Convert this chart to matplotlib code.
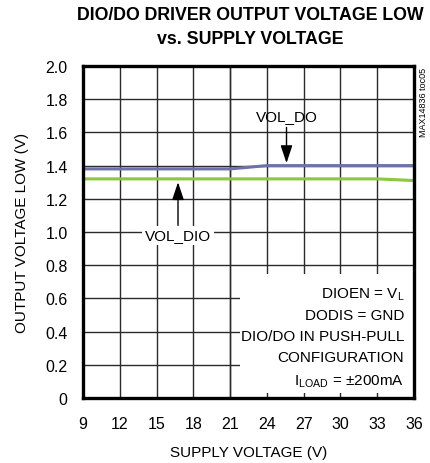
import matplotlib
matplotlib.use("Agg")
import matplotlib.pyplot as plt
from matplotlib.patches import Rectangle
from matplotlib import font_manager

fams = {f.name for f in font_manager.fontManager.ttflist}
narrow = "Liberation Sans Narrow" if "Liberation Sans Narrow" in fams else "Liberation Sans"
plt.rcParams['font.family'] = [narrow, 'DejaVu Sans']

supply = [9, 12, 15, 18, 21, 24, 27, 30, 33, 36]
vol_do = [1.38, 1.38, 1.38, 1.38, 1.38, 1.40, 1.40, 1.40, 1.40, 1.40]
vol_dio = [1.32, 1.32, 1.32, 1.32, 1.32, 1.32, 1.32, 1.32, 1.32, 1.31]
x_ticks = [9, 12, 15, 18, 21, 24, 27, 30, 33, 36]
y_ticks = [0, 0.2, 0.4, 0.6, 0.8, 1.0, 1.2, 1.4, 1.6, 1.8, 2.0]
y_labels = ["0", "0.2", "0.4", "0.6", "0.8", "1.0", "1.2", "1.4", "1.6", "1.8", "2.0"]

fig = plt.figure(figsize=(4.31, 4.64), dpi=100)
ax = fig.add_axes([83/431, 65/464, 331/431, 332/464])
ax.set_xlim(9, 36)
ax.set_ylim(0, 2.0)
ax.set_xticks(x_ticks)
ax.set_yticks(y_ticks)
ax.set_yticklabels(y_labels)
ax.tick_params(axis="y", length=0, labelsize=11.5, pad=11)
ax.tick_params(axis="x", length=0, labelsize=11.5, pad=13)
ax.grid(True, color="#2a2a2a", linewidth=1.0, zorder=1)
ax.set_axisbelow(True)
for s in ax.spines.values():
    s.set_linewidth(2.4)
    s.set_zorder(6)

ax.plot(supply, vol_do, color="#6e72a8", linewidth=2.2, zorder=3)
ax.plot(supply, vol_dio, color="#8dc63f", linewidth=2.2, zorder=3)

# white box for conditions text
ax.add_patch(Rectangle((21.8, 0.03), 36 - 21.8 - 0.1, 0.72, facecolor="white",
                       edgecolor="none", zorder=2))
ax.axvline(21, color="#2a2a2a", linewidth=1.0, zorder=2.5)

cond = ["DIOEN = V$_\\mathregular{L}$", "DODIS = GND", "DIO/DO IN PUSH-PULL",
        "CONFIGURATION", "I$_\\mathregular{LOAD}$ = \u00b1200mA"]
ys = [0.63, 0.50, 0.375, 0.25, 0.105]
for t, y in zip(cond, ys):
    ax.text(35.2, y, t, ha="right", va="center", fontsize=11, zorder=5)

arrow = dict(arrowstyle="-|>,head_length=0.9,head_width=0.3", color="black",
             lw=1.0, mutation_scale=12, shrinkA=0, shrinkB=0)
ax.annotate("", xy=(25.6, 1.415), xytext=(25.6, 1.63), arrowprops=arrow, zorder=5)
ax.text(25.6, 1.70, "VOL_DO", ha="center", va="center", fontsize=11, zorder=5)
ax.annotate("", xy=(16.75, 1.30), xytext=(16.75, 1.04), arrowprops=arrow, zorder=5)
ax.text(16.75, 0.98, "VOL_DIO", ha="center", va="center", fontsize=11, zorder=5,
        bbox=dict(facecolor="white", edgecolor="none", pad=2))

ax.set_xlabel("SUPPLY VOLTAGE (V)", fontsize=11, labelpad=10)
ax.set_ylabel("OUTPUT VOLTAGE LOW (V)", fontsize=11, labelpad=12)

fig.text(0.58, 1 - 16/464, "DIO/DO DRIVER OUTPUT VOLTAGE LOW", ha="center", va="center",
         fontsize=12.8, fontweight="bold")
fig.text(0.58, 1 - 40/464, "vs. SUPPLY VOLTAGE", ha="center", va="center",
         fontsize=12.8, fontweight="bold")
fig.text(424/431, 1 - 68/464, "MAX14836 toc05", rotation=90, ha="center", va="top",
         fontsize=6.5)

fig.savefig("out.png", dpi=100)
